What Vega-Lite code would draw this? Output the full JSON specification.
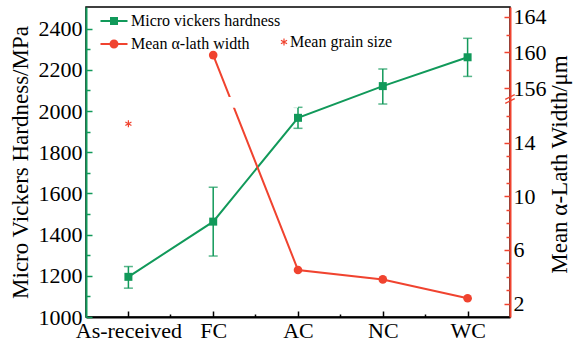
{
  "$schema": "https://vega.github.io/schema/vega-lite/v6.json",
  "width": 424,
  "height": 310,
  "autosize": {"type": "none"},
  "padding": {"left": 86, "top": 7, "right": 65, "bottom": 32},
  "background": "white",
  "config": {
    "font": "Liberation Serif",
    "view": {"stroke": "black", "strokeWidth": 1.5},
    "axis": {
      "labelFont": "Liberation Serif", "titleFont": "Liberation Serif",
      "labelFontSize": 22, "titleFontSize": 23, "titleFontWeight": "normal",
      "labelColor": "black", "titleColor": "black", "grid": false,
      "domainWidth": 2, "tickWidth": 1.5, "labelFlush": false, "labelOverlap": false
    },
    "legend": {"labelFont": "Liberation Serif", "labelFontSize": 16, "labelColor": "black", "padding": 0, "title": null}
  },
  "datasets": {
    "hardness": [
      {"sample": "As-received", "hv": 1195, "low": 1140, "high": 1245},
      {"sample": "FC", "hv": 1463, "low": 1296, "high": 1630},
      {"sample": "AC", "hv": 1967, "low": 1916, "high": 2018},
      {"sample": "NC", "hv": 2121, "low": 2034, "high": 2204},
      {"sample": "WC", "hv": 2261, "low": 2168, "high": 2353}
    ],
    "lath": [
      {"sample": "FC", "width": 159.7},
      {"sample": "AC", "width": 4.5},
      {"sample": "NC", "width": 3.8},
      {"sample": "WC", "width": 2.4}
    ],
    "grain": [{"sample": "As-received", "size": 15.4, "label": "Mean grain size"}],
    "legendHv": [{"series": "Micro vickers hardness"}],
    "legendLath": [{"series": "Mean α-lath width"}],
    "gap": [{"from": "FC", "to": "AC", "lo": 16.6, "hi": 155}],
    "brk": [{"sample": "WC", "v": 155}, {"sample": "WC", "v": 17.1}]
  },
  "layer": [
    {
      "data": {"name": "hardness"},
      "mark": {"type": "line", "color": "#11995a", "strokeWidth": 2},
      "encoding": {
        "x": {"field": "sample", "type": "nominal", "sort": null,
          "scale": {"type": "point", "padding": 0.5, "domain": ["As-received", "FC", "AC", "NC", "WC"]},
          "axis": {"orient": "bottom", "title": null, "labelAngle": 0, "domainColor": "black", "tickColor": "black", "tickSize": -6, "labelPadding": 9}},
        "y": {"field": "hv", "type": "quantitative",
          "scale": {"domain": [1000, 2505], "nice": false, "zero": false},
          "axis": {"orient": "left", "title": "Micro Vickers Hardness/MPa", "format": "d",
            "values": [1000, 1200, 1400, 1600, 1800, 2000, 2200, 2400],
            "domainColor": "#11995a", "tickColor": "#11995a", "tickSize": -6, "labelPadding": 10,
            "titleX": -66, "titleY": 155, "titleAngle": -90, "titleAlign": "center", "titleBaseline": "middle"}}
      }
    },
    {
      "data": {"name": "hardness"},
      "mark": {"type": "point", "opacity": 0},
      "encoding": {
        "x": {"field": "sample", "type": "nominal", "sort": null,
          "scale": {"type": "band", "paddingInner": 0, "paddingOuter": 0, "domain": ["As-received", "FC", "AC", "NC", "WC"]},
          "axis": {"orient": "bottom", "title": null, "labels": false, "domain": false, "bandPosition": 0,
            "values": ["FC", "AC", "NC", "WC"], "tickColor": "black", "tickSize": -3}},
        "y": {"field": "hv", "type": "quantitative",
          "scale": {"domain": [1000, 2505], "nice": false, "zero": false},
          "axis": {"orient": "left", "title": null, "labels": false, "domain": false,
            "values": [1100, 1300, 1500, 1700, 1900, 2100, 2300],
            "tickColor": "#11995a", "tickSize": -4}}
      }
    },
    {
      "data": {"name": "hardness"},
      "mark": {"type": "rule", "color": "#11995a", "strokeWidth": 1.5},
      "encoding": {
        "x": {"field": "sample", "type": "nominal", "sort": null,
          "scale": {"type": "point", "padding": 0.5, "domain": ["As-received", "FC", "AC", "NC", "WC"]}, "axis": null},
        "y": {"field": "low", "type": "quantitative", "scale": {"domain": [1000, 2505], "nice": false, "zero": false}, "axis": null},
        "y2": {"field": "high"}
      }
    },
    {
      "data": {"name": "hardness"},
      "transform": [{"fold": ["low", "high"], "as": ["k", "v"]}],
      "mark": {"type": "tick", "color": "#11995a", "thickness": 1.5, "size": 9, "orient": "horizontal"},
      "encoding": {
        "x": {"field": "sample", "type": "nominal", "sort": null,
          "scale": {"type": "point", "padding": 0.5, "domain": ["As-received", "FC", "AC", "NC", "WC"]}, "axis": null},
        "y": {"field": "v", "type": "quantitative", "scale": {"domain": [1000, 2505], "nice": false, "zero": false}, "axis": null}
      }
    },
    {
      "data": {"name": "hardness"},
      "mark": {"type": "point", "shape": "square", "filled": true, "color": "#11995a", "size": 64, "opacity": 1},
      "encoding": {
        "x": {"field": "sample", "type": "nominal", "sort": null,
          "scale": {"type": "point", "padding": 0.5, "domain": ["As-received", "FC", "AC", "NC", "WC"]}, "axis": null},
        "y": {"field": "hv", "type": "quantitative", "scale": {"domain": [1000, 2505], "nice": false, "zero": false}, "axis": null}
      }
    },
    {
      "data": {"name": "lath"},
      "mark": {"type": "line", "color": "#f0432f", "strokeWidth": 2},
      "encoding": {
        "x": {"field": "sample", "type": "nominal", "sort": null,
          "scale": {"type": "point", "padding": 0.5, "domain": ["As-received", "FC", "AC", "NC", "WC"]}, "axis": null},
        "y": {"field": "width", "type": "quantitative",
          "scale": {"domain": [1, 17.1, 155, 165.1], "range": [310, 94, 90, 0], "nice": false, "zero": false},
          "axis": {"orient": "right", "title": "Mean α-Lath Width/μm",
            "values": [2, 6, 10, 14, 156, 160, 164],
            "domainColor": "#f0432f", "tickColor": "#f0432f", "tickSize": -6, "labelPadding": 9,
            "titleX": 49, "titleY": 157, "titleAngle": -90, "titleAlign": "center", "titleBaseline": "middle"}}
      }
    },
    {
      "data": {"name": "lath"},
      "mark": {"type": "point", "opacity": 0},
      "encoding": {
        "x": {"field": "sample", "type": "nominal", "sort": null,
          "scale": {"type": "point", "padding": 0.5, "domain": ["As-received", "FC", "AC", "NC", "WC"]}, "axis": null},
        "y": {"field": "width", "type": "quantitative",
          "scale": {"domain": [1, 17.1, 155, 165.1], "range": [310, 94, 90, 0], "nice": false, "zero": false},
          "axis": {"orient": "right", "title": null, "labels": false, "domain": false,
            "values": [3, 4, 5, 7, 8, 9, 11, 12, 13, 15, 16, 158, 162],
            "tickColor": "#f0432f", "tickSize": -4}}
      }
    },
    {
      "data": {"name": "gap"},
      "mark": {"type": "rect", "fill": "white"},
      "encoding": {
        "x": {"field": "from", "type": "nominal", "sort": null,
          "scale": {"type": "point", "padding": 0.5, "domain": ["As-received", "FC", "AC", "NC", "WC"]}, "axis": null},
        "x2": {"field": "to"},
        "y": {"field": "lo", "type": "quantitative",
          "scale": {"domain": [1, 17.1, 155, 165.1], "range": [310, 94, 90, 0], "nice": false, "zero": false}, "axis": null},
        "y2": {"field": "hi"}
      }
    },
    {
      "data": {"name": "lath"},
      "mark": {"type": "point", "shape": "circle", "filled": true, "color": "#f0432f", "size": 75, "opacity": 1},
      "encoding": {
        "x": {"field": "sample", "type": "nominal", "sort": null,
          "scale": {"type": "point", "padding": 0.5, "domain": ["As-received", "FC", "AC", "NC", "WC"]}, "axis": null},
        "y": {"field": "width", "type": "quantitative",
          "scale": {"domain": [1, 17.1, 155, 165.1], "range": [310, 94, 90, 0], "nice": false, "zero": false}, "axis": null}
      }
    },
    {
      "data": {"name": "brk"},
      "mark": {"type": "point", "shape": "M-1,0.5L1,-0.5", "filled": false, "color": "#f0432f", "strokeWidth": 1.3, "size": 90, "opacity": 1},
      "encoding": {
        "x": {"field": "sample", "type": "nominal", "sort": null, "bandPosition": 1,
          "scale": {"type": "band", "paddingInner": 0, "paddingOuter": 0, "domain": ["As-received", "FC", "AC", "NC", "WC"]}, "axis": null},
        "y": {"field": "v", "type": "quantitative",
          "scale": {"domain": [1, 17.1, 155, 165.1], "range": [310, 94, 90, 0], "nice": false, "zero": false}, "axis": null}
      }
    },
    {
      "data": {"name": "grain"},
      "mark": {"type": "point", "filled": false, "color": "#f0432f", "strokeWidth": 1.2, "size": 49, "opacity": 1},
      "encoding": {
        "x": {"field": "sample", "type": "nominal", "sort": null,
          "scale": {"type": "point", "padding": 0.5, "domain": ["As-received", "FC", "AC", "NC", "WC"]}, "axis": null},
        "y": {"field": "size", "type": "quantitative",
          "scale": {"domain": [1, 17.1, 155, 165.1], "range": [310, 94, 90, 0], "nice": false, "zero": false}, "axis": null},
        "shape": {"field": "label", "type": "nominal",
          "scale": {"domain": ["Mean grain size"], "range": ["M0,-1V1M-0.87,-0.5L0.87,0.5M-0.87,0.5L0.87,-0.5"]},
          "legend": {"orient": "none", "legendX": 190, "legendY": 27, "symbolSize": 49, "symbolStrokeWidth": 1.2, "labelOffset": -2, "title": null}}
      }
    },
    {
      "data": {"name": "legendHv"},
      "mark": {"type": "point", "filled": true, "fill": "#11995a", "opacity": 0, "size": 400},
      "encoding": {
        "shape": {"field": "series", "type": "nominal",
          "scale": {"domain": ["Micro vickers hardness"], "range": ["M-1.35,-0.1H1.35V0.1H-1.35ZM-0.4,-0.4H0.4V0.4H-0.4Z"]},
          "legend": {"orient": "none", "legendX": 17, "legendY": 3, "symbolSize": 400,
            "symbolFillColor": "#11995a", "labelOffset": 6, "title": null,
            "encode": {"symbols": {"update": {"opacity": {"value": 1}, "fillOpacity": {"value": 1}}}}}}
      }
    },
    {
      "data": {"name": "legendLath"},
      "mark": {"type": "point", "filled": true, "fill": "#f0432f", "opacity": 0, "size": 400},
      "encoding": {
        "shape": {"field": "series", "type": "nominal",
          "scale": {"domain": ["Mean α-lath width"], "range": ["M-1.35,-0.1H1.35V0.1H-1.35ZM0.45,0A0.45,0.45,0,1,1,-0.45,0A0.45,0.45,0,1,1,0.45,0Z"]},
          "legend": {"orient": "none", "legendX": 17, "legendY": 26, "symbolSize": 400,
            "symbolFillColor": "#f0432f", "labelOffset": 6, "title": null,
            "encode": {"symbols": {"update": {"opacity": {"value": 1}, "fillOpacity": {"value": 1}}}}}}
      }
    }
  ],
  "resolve": {"scale": {"x": "independent", "y": "independent", "shape": "independent"}}
}
